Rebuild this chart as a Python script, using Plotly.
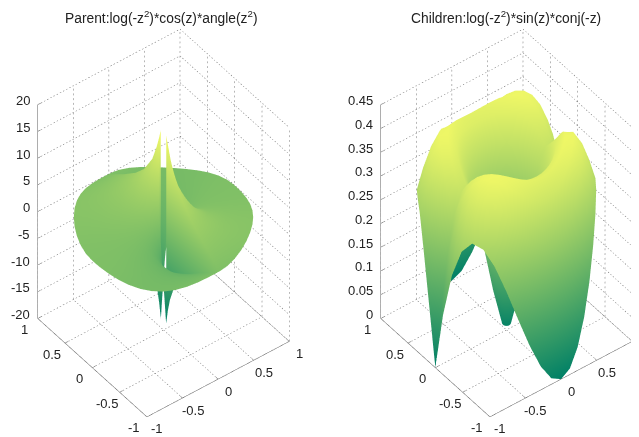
import numpy as np
import plotly.graph_objects as go

titles = ["Parent:log(-z<sup>2</sup>)*cos(z)*angle(z<sup>2</sup>)",
          "Children:log(-z<sup>2</sup>)*sin(z)*conj(-z)"]
xy_ticks = [-1, -0.5, 0, 0.5, 1]
xy_labels = ["-1", "-0.5", "0", "0.5", "1"]
left_z_ticks = [-20, -15, -10, -5, 0, 5, 10, 15, 20]
left_z_labels = ["-20", "-15", "-10", "-5", "0", "5", "10", "15", "20"]
right_z_ticks = [0, .05, .1, .15, .2, .25, .3, .35, .4, .45]
right_z_labels = ["0", "0.05", "0.1", "0.15", "0.2", "0.25", "0.3", "0.35", "0.4", "0.45"]

left_radius = [.05, .08, .12, .2, .35, .5, .7, .85, 1]
left_angle = [-180,-172.5,-165,-157.5,-150,-142.5,-135,-127.5,-120,-112.5,-105,-97.5,-91,-89,-82.5,-75,-67.5,-60,-52.5,-45,-37.5,-30,-22.5,-15,-7.5,
              0,7.5,15,22.5,30,37.5,45,52.5,60,67.5,75,82.5,89,91,97.5,105,112.5,120,127.5,135,142.5,150,157.5,165,172.5,180]
left_height = [
 [0,-1.57,-3.13,-4.70,-6.27,-7.84,-9.41,-10.98,-12.55,-14.12,-15.68,-17.25,-18.3,16.8,16.2,15.68,14.12,12.55,10.98,9.41,7.84,6.27,4.70,3.13,1.57,
  0,-1.57,-3.13,-4.70,-6.27,-7.84,-9.41,-10.98,-12.55,-14.12,-15.68,-17.25,-18.3,16.8,16.2,15.68,14.12,12.55,10.98,9.41,7.84,6.27,4.70,3.13,1.57,0],
 [0,-1.32,-2.64,-3.96,-5.29,-6.61,-7.94,-9.27,-10.61,-11.93,-13.27,-14.59,-15.74,15.2,14.59,13.27,11.93,10.61,9.27,7.94,6.61,5.29,3.96,2.64,1.32,
  0,-1.32,-2.64,-3.96,-5.29,-6.61,-7.94,-9.27,-10.61,-11.93,-13.27,-14.59,-15.74,15.2,14.59,13.27,11.93,10.61,9.27,7.94,6.61,5.29,3.96,2.64,1.32,0],
 [0,-1.10,-2.21,-3.32,-4.44,-5.56,-6.68,-7.80,-8.93,-10.05,-11.18,-12.30,-13.27,13.27,12.30,11.18,10.05,8.93,7.80,6.68,5.56,4.44,3.32,2.21,1.10,
  0,-1.10,-2.21,-3.32,-4.44,-5.56,-6.68,-7.80,-8.93,-10.05,-11.18,-12.30,-13.27,13.27,12.30,11.18,10.05,8.93,7.80,6.68,5.56,4.44,3.32,2.21,1.10,0],
 [0,-.83,-1.67,-2.52,-3.38,-4.24,-5.11,-5.98,-6.85,-7.72,-8.59,-9.45,-10.2,10.2,9.45,8.59,7.72,6.85,5.98,5.11,4.24,3.38,2.52,1.67,.83,
  0,-.83,-1.67,-2.52,-3.38,-4.24,-5.11,-5.98,-6.85,-7.72,-8.59,-9.45,-10.2,10.2,9.45,8.59,7.72,6.85,5.98,5.11,4.24,3.38,2.52,1.67,.83,0],
 [0,-.53,-1.08,-1.66,-2.25,-2.85,-3.45,-4.05,-4.65,-5.24,-5.83,-6.42,-6.92,6.92,6.42,5.83,5.24,4.65,4.05,3.45,2.85,2.25,1.66,1.08,.53,
  0,-.53,-1.08,-1.66,-2.25,-2.85,-3.45,-4.05,-4.65,-5.24,-5.83,-6.42,-6.92,6.92,6.42,5.83,5.24,4.65,4.05,3.45,2.85,2.25,1.66,1.08,.53,0],
 [0,-.34,-.73,-1.15,-1.59,-2.04,-2.48,-2.91,-3.32,-3.72,-4.11,-4.51,-4.86,4.86,4.51,4.11,3.72,3.32,2.91,2.48,2.04,1.59,1.15,.73,.34,
  0,-.34,-.73,-1.15,-1.59,-2.04,-2.48,-2.91,-3.32,-3.72,-4.11,-4.51,-4.86,4.86,4.51,4.11,3.72,3.32,2.91,2.48,2.04,1.59,1.15,.73,.34,0],
 [0,-.19,-.45,-.77,-1.10,-1.42,-1.71,-1.96,-2.15,-2.31,-2.45,-2.61,-2.78,2.78,2.61,2.45,2.31,2.15,1.96,1.71,1.42,1.10,.77,.45,.19,
  0,-.19,-.45,-.77,-1.10,-1.42,-1.71,-1.96,-2.15,-2.31,-2.45,-2.61,-2.78,2.78,2.61,2.45,2.31,2.15,1.96,1.71,1.42,1.10,.77,.45,.19,0],
 [0,-.12,-.34,-.62,-.92,-1.19,-1.39,-1.50,-1.53,-1.47,-1.40,-1.36,-1.40,1.40,1.36,1.40,1.47,1.53,1.50,1.39,1.19,.92,.62,.34,.12,
  0,-.12,-.34,-.62,-.92,-1.19,-1.39,-1.50,-1.53,-1.47,-1.40,-1.36,-1.40,1.40,1.36,1.40,1.47,1.53,1.50,1.39,1.19,.92,.62,.34,.12,0],
 [0,-.08,-.29,-.58,-.87,-1.11,-1.23,-1.21,-1.03,-.73,-.39,-.11,0,0,.11,.39,.73,1.03,1.21,1.23,1.11,.87,.58,.29,.08,
  0,-.08,-.29,-.58,-.87,-1.11,-1.23,-1.21,-1.03,-.73,-.39,-.11,0,0,.11,.39,.73,1.03,1.21,1.23,1.11,.87,.58,.29,.08,0],
]

right_radius = [.05, .15, .3, .45, .55, .65, .75, .85, .93, 1]
right_angle = [-180,-172.5,-165,-157.5,-150,-142.5,-135,-127.5,-120,-112.5,-105,-97.5,-90,-82.5,-75,-67.5,-60,-52.5,-45,-37.5,-30,-22.5,-15,-7.5,
               0,7.5,15,22.5,30,37.5,45,52.5,60,67.5,75,82.5,90,97.5,105,112.5,120,127.5,135,142.5,150,157.5,165,172.5,180]
right_height = [
 [.015]*49,
 [.086]*49,
 [.2135,.2146,.2157,.2166,.2175,.2183,.2188,.2192,.2195,.2197,.2199,.2199,.22,.2199,.2199,.2197,.2195,.2192,.2188,.2183,.2175,.2166,.2157,.2146,
  .2135,.2146,.2157,.2166,.2175,.2183,.2188,.2192,.2195,.2197,.2199,.2199,.22,.2199,.2199,.2197,.2195,.2192,.2188,.2183,.2175,.2166,.2157,.2146,.2135],
 [.3125,.318,.3229,.3271,.3303,.3327,.3341,.3348,.3351,.3349,.3346,.3344,.3343,.3344,.3346,.3349,.3351,.3348,.3341,.3327,.3303,.3271,.3229,.318,
  .3125,.318,.3229,.3271,.3303,.3327,.3341,.3348,.3351,.3349,.3346,.3344,.3343,.3344,.3346,.3349,.3351,.3348,.3341,.3327,.3303,.3271,.3229,.318,.3125],
 [.3435,.3555,.3659,.3742,.3803,.384,.3857,.3857,.3846,.3831,.3815,.3803,.3799,.3803,.3815,.3831,.3846,.3857,.3857,.384,.3803,.3742,.3659,.3555,
  .3435,.3555,.3659,.3742,.3803,.384,.3857,.3857,.3846,.3831,.3815,.3803,.3799,.3803,.3815,.3831,.3846,.3857,.3857,.384,.3803,.3742,.3659,.3555,.3435],
 [.3384,.3614,.3807,.3955,.4052,.4101,.4107,.4082,.4038,.3986,.394,.3908,.3896,.3908,.394,.3986,.4038,.4082,.4107,.4101,.4052,.3955,.3807,.3614,
  .3384,.3614,.3807,.3955,.4052,.4101,.4107,.4082,.4038,.3986,.394,.3908,.3896,.3908,.394,.3986,.4038,.4082,.4107,.4101,.4052,.3955,.3807,.3614,.3384],
 [.2934,.3337,.3664,.3901,.4042,.4092,.4066,.3983,.3867,.3745,.3638,.3566,.354,.3566,.3638,.3745,.3867,.3983,.4066,.4092,.4042,.3901,.3664,.3337,
  .2934,.3337,.3664,.3901,.4042,.4092,.4066,.3983,.3867,.3745,.3638,.3566,.354,.3566,.3638,.3745,.3867,.3983,.4066,.4092,.4042,.3901,.3664,.3337,.2934],
 [.2065,.2724,.3242,.3597,.3785,.3815,.3715,.3521,.3278,.3031,.2821,.268,.2631,.268,.2821,.3031,.3278,.3521,.3715,.3815,.3785,.3597,.3242,.2724,
  .2065,.2724,.3242,.3597,.3785,.3815,.3715,.3521,.3278,.3031,.2821,.268,.2631,.268,.2821,.3031,.3278,.3521,.3715,.3815,.3785,.3597,.3242,.2724,.2065],
 [.1074,.2009,.273,.3204,.3426,.3415,.3213,.2878,.2475,.2075,.1738,.1515,.1436,.1515,.1738,.2075,.2475,.2878,.3213,.3415,.3426,.3204,.273,.2009,
  .1074,.2009,.273,.3204,.3426,.3415,.3213,.2878,.2475,.2075,.1738,.1515,.1436,.1515,.1738,.2075,.2475,.2878,.3213,.3415,.3426,.3204,.273,.2009,.1074],
 [0,.1242,.2182,.2777,.3023,.295,.2618,.2107,.1511,.0926,.0436,.0113,0,.0113,.0436,.0926,.1511,.2107,.2618,.295,.3023,.2777,.2182,.1242,
  0,.1242,.2182,.2777,.3023,.295,.2618,.2107,.1511,.0926,.0436,.0113,0,.0113,.0436,.0926,.1511,.2107,.2618,.295,.3023,.2777,.2182,.1242,0],
]

SUMMER = [[0, "rgb(0,128,102)"], [1, "rgb(255,255,102)"]]
DOT = "#6e6e6e"
SOLID = "#5a5a5a"
TEXT = "#222222"
FONT = "Liberation Sans"
DOT_COUNT = 45


def segs(items):
    xs, ys, zs = [], [], []
    for a, b in items:
        xs += [a[0], b[0], None]
        ys += [a[1], b[1], None]
        zs += [a[2], b[2], None]
    return xs, ys, zs


def dotted(items):
    out = []
    for a, b in items:
        a, b = np.array(a, float), np.array(b, float)
        for i in range(DOT_COUNT):
            p = a + (b - a) * i / DOT_COUNT
            q = a + (b - a) * (i + .4) / DOT_COUNT
            out.append((tuple(p), tuple(q)))
    return out


def panel(fig, scene, radius, angle, height, zt, zl, zrange, cmin, cmax):
    r = np.array(radius)[:, None]
    t = np.deg2rad(np.array(angle))[None, :]
    fig.add_trace(go.Surface(
        x=r * np.cos(t), y=r * np.sin(t), z=height, scene=scene,
        colorscale=SUMMER, cmin=cmin, cmax=cmax, showscale=False, hoverinfo="skip",
        lighting=dict(ambient=1, diffuse=0, specular=0, roughness=1, fresnel=0),
    ))
    z0, z1 = zrange
    dots = []
    for v in xy_ticks:
        dots.append(((v, -1, z0), (v, 1, z0)))
        dots.append(((-1, v, z0), (1, v, z0)))
        dots.append(((v, 1, z0), (v, 1, z1)))
        dots.append(((1, v, z0), (1, v, z1)))
    for v in zt:
        dots.append(((-1, 1, v), (1, 1, v)))
        dots.append(((1, 1, v), (1, -1, v)))
    xs, ys, zs = segs(dotted(dots))
    fig.add_trace(go.Scatter3d(x=xs, y=ys, z=zs, mode="lines", scene=scene, hoverinfo="skip",
                               showlegend=False, line=dict(color=DOT, width=1)))
    solid = [((-1, 1, z0), (-1, 1, z1)), ((-1, 1, z0), (-1, -1, z0)), ((-1, -1, z0), (1, -1, z0))]
    for v in xy_ticks:
        solid.append(((v, -1, z0), (v, -.96, z0)))
        solid.append(((-1, v, z0), (-.96, v, z0)))
    for v in zt:
        solid.append(((-1, 1, v), (-.96, 1, v)))
    xs, ys, zs = segs(solid)
    fig.add_trace(go.Scatter3d(x=xs, y=ys, z=zs, mode="lines", scene=scene, hoverinfo="skip",
                               showlegend=False, line=dict(color=SOLID, width=1)))
    font = dict(family=FONT, size=13, color=TEXT)
    ann = []
    for v, s in zip(zt, zl):
        ann.append(dict(x=-1, y=1, z=min(v, z1 - (z1 - z0) * 1e-3), text=s, showarrow=False,
                        xanchor="right", yanchor="middle", xshift=-6, yshift=4, font=font))
    for v, s in zip(xy_ticks, xy_labels):
        ann.append(dict(x=-1, y=v, z=z0, text=s, showarrow=False, xanchor="center", yanchor="middle",
                        xshift=-13, yshift=-11, font=font))
        ann.append(dict(x=v, y=-1, z=z0, text=s, showarrow=False, xanchor="center", yanchor="middle",
                        xshift=10, yshift=-12, font=font))
    return ann


fig = go.Figure()
ann_l = panel(fig, "scene", left_radius, left_angle, left_height, left_z_ticks, left_z_labels,
              (-20, 20), -18.6, 18.6)
ann_r = panel(fig, "scene2", right_radius, right_angle, right_height, right_z_ticks, right_z_labels,
              (0, .45), 0, .44)

EL = np.deg2rad(43.3)
AZ = np.deg2rad(-37.5)
DIST = 2.0
SCALE = 0.821
eye = dict(x=DIST * np.cos(EL) * np.sin(AZ), y=-DIST * np.cos(EL) * np.cos(AZ), z=DIST * np.sin(EL))


def scene_opts(dom, zrange, ann):
    hide = dict(visible=False, showspikes=False, showgrid=False, zeroline=False, showticklabels=False,
                showbackground=False, showline=False)
    return dict(
        domain=dict(x=dom, y=[0, 1]),
        xaxis=dict(range=[-1, 1], **hide), yaxis=dict(range=[-1, 1], **hide),
        zaxis=dict(range=list(zrange), **hide),
        aspectmode="manual", aspectratio=dict(x=SCALE, y=SCALE, z=1.65 * SCALE),
        camera=dict(eye=eye, up=dict(x=0, y=0, z=1), center=dict(x=0, y=0, z=-0.022),
                    projection=dict(type="orthographic")),
        annotations=ann,
    )


fig.update_layout(
    width=639, height=437, margin=dict(l=0, r=0, t=0, b=0),
    paper_bgcolor="white", showlegend=False,
    scene=scene_opts([0, 0.487], (-20, 20), ann_l),
    scene2=scene_opts([0.56, 1], (0, .45), ann_r),
    annotations=[
        dict(text=titles[0], x=153.7 / 639, y=1 - 9 / 437, xref="paper", yref="paper", showarrow=False,
             xanchor="center", yanchor="middle", font=dict(family=FONT, size=13.8, color=TEXT)),
        dict(text=titles[1], x=498 / 639, y=1 - 9 / 437, xref="paper", yref="paper", showarrow=False,
             xanchor="center", yanchor="middle", font=dict(family=FONT, size=13.8, color=TEXT)),
    ],
)
fig.write_html("out.html", config=dict(displayModeBar=False))
